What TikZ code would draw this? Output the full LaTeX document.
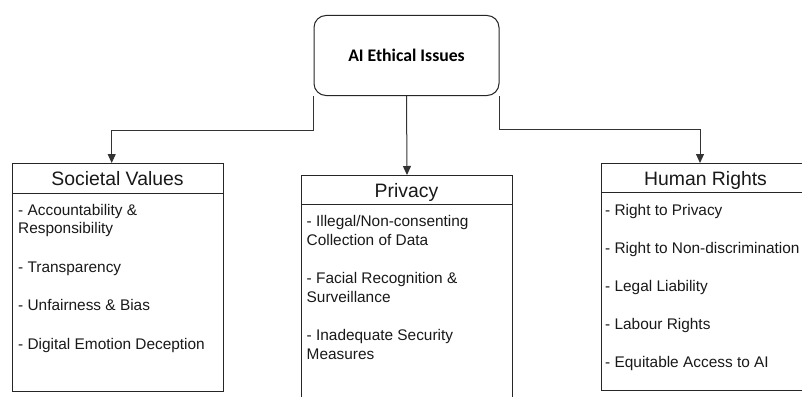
\documentclass[tikz,border=0pt]{standalone}
\usepackage{fontspec}
\setmainfont{Liberation Sans}
\newfontfamily\titlefont{Carlito}
\usetikzlibrary{arrows.meta,calc}
\begin{document}
\begin{tikzpicture}[x=1pt,y=-1pt,
  boxline/.style={draw=black!85,line width=1pt},
  conn/.style={draw=black!80,line width=1pt,-{Triangle[width=8pt,length=9pt]}},
  plainconn/.style={draw=black!80,line width=1pt},
  hdr/.style={font=\fontsize{19.4}{23}\selectfont,text=black!90,inner sep=0pt,anchor=base},
  item/.style={font=\fontsize{15.4}{19}\selectfont,text=black!90,inner sep=0pt,anchor=base west},
  titlebox/.style={boxline,rounded corners=12pt,minimum width=185pt,minimum height=80pt,inner sep=0pt,
    font=\titlefont\bfseries\fontsize{17.7}{21}\selectfont}]
\useasboundingbox (0,0) rectangle (802,396);
\clip (0,0) rectangle (802,396);
\fill[white] (0,0) rectangle (802,396);
% title
\node[titlebox] (ai) at (406.5,55.5) {AI Ethical Issues};
% boxes
\node[boxline,anchor=north west,minimum width=211pt,minimum height=228pt,inner sep=0pt] (sv) at (12,163) {};
\node[boxline,anchor=north west,minimum width=211pt,minimum height=240pt,inner sep=0pt] (pv) at (301,175) {};
\node[boxline,anchor=north west,minimum width=209pt,minimum height=227pt,inner sep=0pt] (hr) at (601,163) {};
\draw[boxline] ($(sv.north west)+(0,30)$) -- ($(sv.north east)+(0,30)$);
\draw[boxline] ($(pv.north west)+(0,29)$) -- ($(pv.north east)+(0,29)$);
\draw[boxline] ($(hr.north west)+(0,29)$) -- ($(hr.north east)+(0,29)$);
% headers
\node[hdr] (svh) at (117.5,185) {Societal Values};
\node[hdr] (pvh) at (406.5,197) {Privacy};
\node[hdr] (hrh) at (705.5,185) {Human Rights};
% societal items
\node[item] (s1) at (18,215) {- Accountability \&};
\node[item] (s1b) at (18,233.5) {Responsibility};
\node[item] (s2) at (18,272) {- Transparency};
\node[item] (s3) at (18,310.5) {- Unfairness \& Bias};
\node[item] (s4) at (18,349) {- Digital Emotion Deception};
% privacy items
\node[item] (p1) at (306.5,226.5) {- Illegal/Non-consenting};
\node[item] (p1b) at (306.5,245) {Collection of Data};
\node[item] (p2) at (306.5,283.5) {- Facial Recognition \&};
\node[item] (p2b) at (306.5,302) {Surveillance};
\node[item] (p3) at (306.5,340.5) {- Inadequate Security};
\node[item] (p3b) at (306.5,359) {Measures};
% human rights items
\node[item] (h1) at (605,215) {- Right to Privacy};
\node[item] (h2) at (605,253) {- Right to Non-discrimination};
\node[item] (h3) at (605,291) {- Legal Liability};
\node[item] (h4) at (605,329) {- Labour Rights};
\node[item] (h5) at (605,367) {- Equitable Access to AI};
% connectors
\coordinate (svin) at (111.7,163);
\coordinate (hrin) at (700,163);
\draw[conn] (ai.south west) -- ++(0,34) -| (svin);
\draw[conn] (ai.south) -- (pv.north);
\draw[conn] (ai.south east) -- ++(0,33) -| (hrin);
\end{tikzpicture}
\end{document}
